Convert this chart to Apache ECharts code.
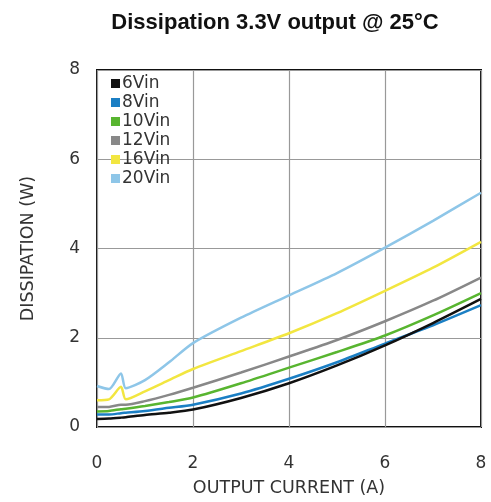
<!DOCTYPE html>
<html lang="en">

<head>
    <meta charset="UTF-8">
    <title>Dissipation</title>
    <script src="https://cdn.jsdelivr.net/npm/echarts@6/dist/echarts.min.js"></script>
    <style>
        html, body { margin: 0; padding: 0; background: #fff; }
    </style>
</head>

<body>
    <div id="container" style="width: 491px; height: 502px"></div>
    <script>
        // output current (A)
        var current = [0, 0.25, 0.5, 0.6, 1, 1.5, 2, 3, 4, 5, 6, 7, 8];
        // dissipation (W) per input voltage
        var vin6 = [0.18, 0.19, 0.21, 0.22, 0.27, 0.32, 0.39, 0.65, 0.98, 1.38, 1.83, 2.33, 2.87];
        var vin8 = [0.28, 0.28, 0.31, 0.32, 0.36, 0.43, 0.50, 0.75, 1.08, 1.45, 1.87, 2.28, 2.73];
        var vin10 = [0.35, 0.36, 0.40, 0.41, 0.47, 0.56, 0.66, 0.98, 1.33, 1.68, 2.05, 2.50, 3.00];
        var vin12 = [0.45, 0.45, 0.50, 0.50, 0.58, 0.72, 0.88, 1.22, 1.58, 1.95, 2.37, 2.83, 3.35];
        var vin16 = [0.60, 0.62, 0.90, 0.62, 0.80, 1.05, 1.30, 1.70, 2.10, 2.55, 3.05, 3.57, 4.15];
        var vin20 = [0.92, 0.85, 1.20, 0.87, 1.05, 1.45, 1.88, 2.45, 2.95, 3.45, 4.02, 4.62, 5.25];
        var names = ['6Vin', '8Vin', '10Vin', '12Vin', '16Vin', '20Vin'];
        var colors = ['#111111', '#1b7fc4', '#58b530', '#888888', '#f2e640', '#8ec6e8'];
        var xTicks = [0, 2, 4, 6, 8];
        var yTicks = [0, 2, 4, 6, 8];

        var allData = [vin6, vin8, vin10, vin12, vin16, vin20];

        function pairs(ys) {
            var out = [];
            for (let i = 0; i < current.length; i++) {
                out.push([current[i], ys[i]]);
            }
            return out;
        }

        var series = [];
        for (let k = allData.length - 1; k >= 0; k--) {
            series.push({
                name: names[k],
                type: 'line',
                data: pairs(allData[k]),
                smooth: 0.25,
                showSymbol: false,
                lineStyle: { width: 2.5, color: colors[k] },
                itemStyle: { color: colors[k] },
                z: 10 - k
            });
        }

        var myChart = echarts.init(document.getElementById('container'));
        var font = 'DejaVu Sans, sans-serif';

        myChart.setOption({
            animation: false,
            title: {
                text: 'Dissipation 3.3V output @ 25\u00B0C',
                left: 270,
                textAlign: 'center',
                top: 7,
                textStyle: { fontFamily: 'Liberation Sans, Arial, sans-serif', fontSize: 22, fontWeight: 'bold', color: '#111' }
            },
            legend: {
                data: names,
                orient: 'vertical',
                left: 106,
                top: 70,
                itemWidth: 9,
                itemHeight: 9,
                itemGap: 2,
                icon: 'rect',
                textStyle: { fontFamily: font, fontSize: 17, color: '#333', padding: [0, 0, 0, -3] }
            },
            grid: { left: 97, top: 70, right: 10, bottom: 73, show: true, borderColor: '#111', borderWidth: 2 },
            xAxis: {
                type: 'value',
                min: xTicks[0],
                max: xTicks[xTicks.length - 1],
                interval: 2,
                name: 'OUTPUT CURRENT (A)',
                nameLocation: 'middle',
                nameGap: 52,
                nameTextStyle: { fontFamily: font, fontSize: 17.5, color: '#333' },
                axisLine: { show: false },
                axisTick: { show: false },
                axisLabel: { fontFamily: font, fontSize: 17, color: '#333', margin: 28 },
                splitLine: { lineStyle: { color: '#999', width: 1.2 } }
            },
            yAxis: {
                type: 'value',
                min: yTicks[0],
                max: yTicks[yTicks.length - 1],
                interval: 2,
                name: 'DISSIPATION (W)',
                nameLocation: 'middle',
                nameGap: 60,
                nameTextStyle: { fontFamily: font, fontSize: 17.5, color: '#333' },
                axisLine: { show: false },
                axisTick: { show: false },
                axisLabel: { fontFamily: font, fontSize: 17, color: '#333', margin: 17 },
                splitLine: { lineStyle: { color: '#999', width: 1.2 } }
            },
            series: series
        });
    </script>
</body>

</html>
